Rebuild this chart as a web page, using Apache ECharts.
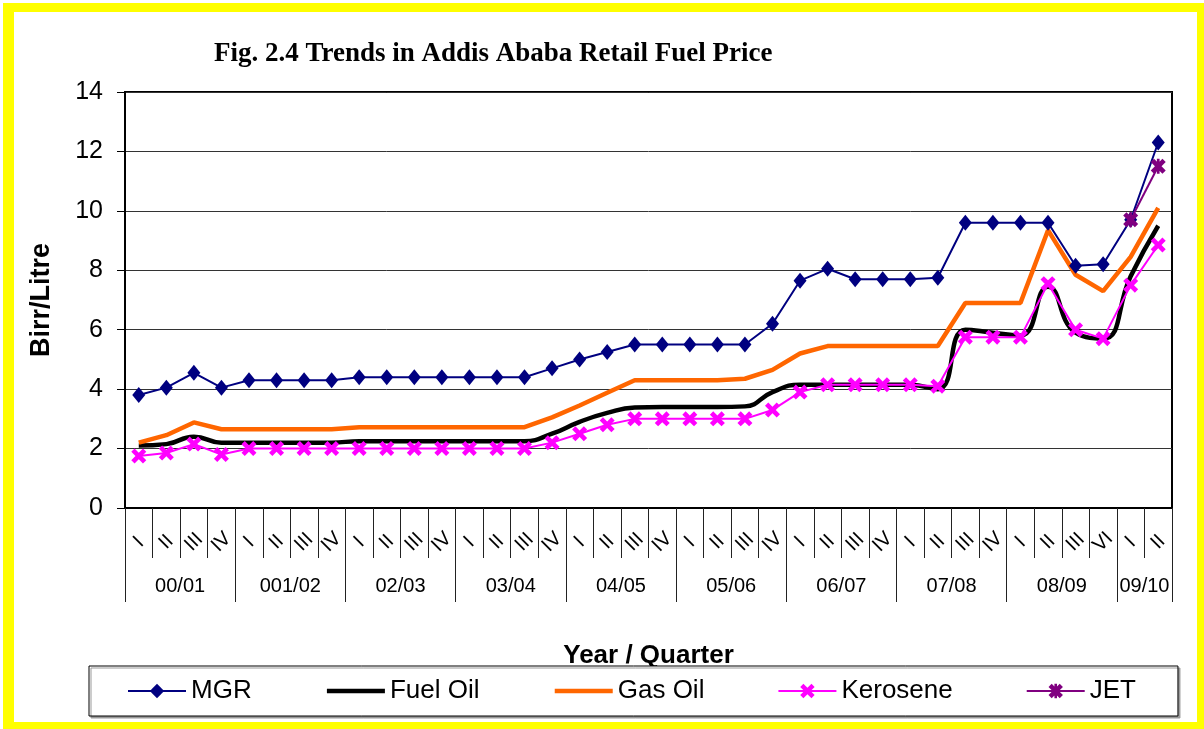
<!DOCTYPE html>
<html>
<head>
<meta charset="utf-8">
<script src="https://cdn.jsdelivr.net/npm/echarts@6/dist/echarts.min.js"></script>
<style>
  html, body { margin: 0; padding: 0; background: #fff; }
  #frame { position: absolute; left: 3px; top: 3px; width: 1201px; height: 726px; background: #ffff00; }
  #chart { position: absolute; left: 11px; top: 9px; width: 1183px; height: 710px; background: #fff; }
</style>
</head>
<body>
<div id="frame"><div id="chart"></div></div>
<script>
// year / quarter categories
const years = ['00/01', '001/02', '02/03', '03/04', '04/05', '05/06', '06/07', '07/08', '08/09', '09/10'];
const quartersPerYear = [4, 4, 4, 4, 4, 4, 4, 4, 4, 2];
const quarters = [
  'I', 'II', 'III', 'IV', 'I', 'II', 'III', 'IV', 'I', 'II', 'III', 'IV',
  'I', 'II', 'III', 'IV', 'I', 'II', 'III', 'IV', 'I', 'II', 'III', 'IV',
  'I', 'II', 'III', 'IV', 'I', 'II', 'III', 'IV', 'I', 'II', 'III', 'VI',
  'I', 'II'
];

// Birr / Litre
const mgr = [3.8, 4.05, 4.55, 4.05, 4.3, 4.3, 4.3, 4.3, 4.4, 4.4, 4.4, 4.4,
  4.4, 4.4, 4.4, 4.7, 5.0, 5.25, 5.5, 5.5, 5.5, 5.5, 5.5, 6.2,
  7.65, 8.05, 7.7, 7.7, 7.7, 7.75, 9.6, 9.6, 9.6, 9.6, 8.15, 8.2,
  9.7, 12.3];
const fuelOil = [2.1, 2.15, 2.4, 2.2, 2.2, 2.2, 2.2, 2.2, 2.25, 2.25, 2.25, 2.25,
  2.25, 2.25, 2.25, 2.5, 2.9, 3.2, 3.38, 3.4, 3.4, 3.4, 3.42, 3.9,
  4.15, 4.15, 4.15, 4.15, 4.15, 4.0, 6.0, 5.9, 5.8, 7.45, 5.9, 5.7,
  7.8, 9.5];
const gasOil = [2.2, 2.45, 2.88, 2.65, 2.65, 2.65, 2.65, 2.65, 2.72, 2.72, 2.72, 2.72,
  2.72, 2.72, 2.72, 3.05, 3.45, 3.88, 4.3, 4.3, 4.3, 4.3, 4.35, 4.65,
  5.2, 5.45, 5.45, 5.45, 5.45, 5.45, 6.9, 6.9, 6.9, 9.35, 7.85, 7.3,
  8.45, 10.1];
const kerosene = [1.75, 1.85, 2.15, 1.8, 2.0, 2.0, 2.0, 2.0, 2.0, 2.0, 2.0, 2.0,
  2.0, 2.0, 2.0, 2.2, 2.5, 2.8, 3.0, 3.0, 3.0, 3.0, 3.0, 3.3,
  3.9, 4.15, 4.15, 4.15, 4.15, 4.1, 5.75, 5.75, 5.75, 7.55, 6.0, 5.7,
  7.5, 8.85];
const jet = [null, null, null, null, null, null, null, null, null, null, null, null,
  null, null, null, null, null, null, null, null, null, null, null, null,
  null, null, null, null, null, null, null, null, null, null, null, null,
  9.7, 11.5];

// year axis: one slot per quarter boundary, year name at the middle of its quarters
const yearSlots = new Array(quarters.length + 1).fill('');
const yearEdges = [0];
let pos = 0;
years.forEach((y, i) => {
  yearSlots[pos + quartersPerYear[i] / 2] = y;
  pos += quartersPerYear[i];
  yearEdges.push(pos);
});

const sans = 'Liberation Sans';
const xMark = 'path://M0,2.2L2.2,0L5,2.8L7.8,0L10,2.2L7.2,5L10,7.8L7.8,10L5,7.2L2.2,10L0,7.8L2.8,5Z';
const starMark = xMark.replace('Z', 'ZM4.1,0L5.9,0L5.9,10L4.1,10Z');

const chart = echarts.init(document.getElementById('chart'));
chart.setOption({
  animation: false,
  title: {
    text: 'Fig. 2.4 Trends in Addis Ababa Retail Fuel Price',
    left: 195,
    top: 24,
    textStyle: { fontFamily: 'Liberation Serif', fontWeight: 'bold', fontSize: 27, color: '#000' },
  },
  grid: {
    left: 111, top: 80, right: 25, bottom: 214,
    show: true, borderColor: '#000', borderWidth: 2,
  },
  legend: {
    left: 75,
    top: 654,
    padding: [12, 42, 12, 38],
    itemGap: 73,
    itemWidth: 58,
    itemHeight: 18,
    borderColor: '#000',
    borderWidth: 1,
    backgroundColor: '#fff',
    shadowColor: '#999',
    shadowOffsetX: 2,
    shadowOffsetY: 2,
    lineStyle: { width: 'inherit' },
    textStyle: { fontFamily: sans, fontSize: 26, color: '#000' },
  },
  xAxis: [
    {
      type: 'category',
      data: quarters,
      boundaryGap: true,
      axisLine: { lineStyle: { color: '#000', width: 2 } },
      axisTick: { show: true, interval: 0, length: 50, lineStyle: { color: '#222', width: 1 } },
      axisLabel: {
        interval: 0, rotate: 45, align: 'center', verticalAlign: 'middle', margin: 34,
        fontFamily: sans, fontSize: 20, color: '#000',
      },
      splitLine: { show: false },
    },
    {
      type: 'category',
      data: yearSlots,
      boundaryGap: false,
      position: 'bottom',
      axisLine: { show: false },
      axisTick: { show: true, length: 94, interval: (i) => yearEdges.includes(i), lineStyle: { color: '#222', width: 1 } },
      axisLabel: { interval: 0, margin: 68, fontFamily: sans, fontSize: 20, color: '#000' },
      splitLine: { show: false },
      name: 'Year / Quarter',
      nameLocation: 'middle',
      nameGap: 135,
      nameTextStyle: { fontFamily: sans, fontWeight: 'bold', fontSize: 26, color: '#000' },
    },
  ],
  yAxis: {
    type: 'value',
    min: 0,
    max: 14,
    interval: 2,
    axisLine: { show: true, lineStyle: { color: '#000', width: 2 } },
    axisTick: { show: true, length: 8, lineStyle: { color: '#000' } },
    axisLabel: { margin: 22, fontFamily: sans, fontSize: 25, color: '#000' },
    splitLine: { lineStyle: { color: '#333', width: 1 } },
    name: 'Birr/Litre',
    nameLocation: 'middle',
    nameGap: 70,
    nameTextStyle: { fontFamily: sans, fontWeight: 'bold', fontSize: 27, color: '#000' },
  },
  series: [
    {
      name: 'MGR', type: 'line', data: mgr,
      symbol: 'diamond', symbolSize: [13, 16],
      itemStyle: { color: '#000080' },
      lineStyle: { color: '#000080', width: 2 },
    },
    {
      name: 'Fuel Oil', type: 'line', data: fuelOil, smooth: true,
      symbol: 'none',
      itemStyle: { color: '#000', opacity: 0 },
      lineStyle: { color: '#000', width: 4.5 },
    },
    {
      name: 'Gas Oil', type: 'line', data: gasOil,
      symbol: 'none',
      itemStyle: { color: '#ff6600', opacity: 0 },
      lineStyle: { color: '#ff6600', width: 4.5 },
    },
    {
      name: 'Kerosene', type: 'line', data: kerosene,
      symbol: xMark, symbolSize: 15,
      itemStyle: { color: '#ff00ff' },
      lineStyle: { color: '#ff00ff', width: 2 },
    },
    {
      name: 'JET', type: 'line', data: jet,
      symbol: starMark, symbolSize: 15,
      itemStyle: { color: '#800080' },
      lineStyle: { color: '#800080', width: 2 },
    },
  ],
});
</script>
</body>
</html>
